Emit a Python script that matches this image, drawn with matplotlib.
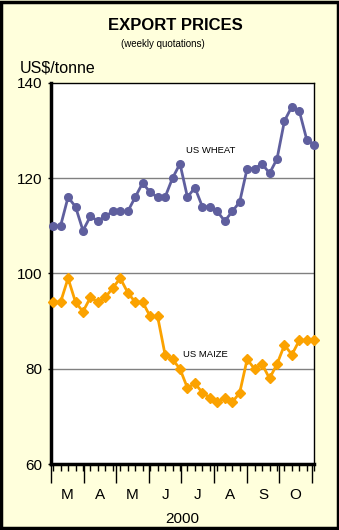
import datetime as dt
import matplotlib.pyplot as plt

# weekly quotations, 2000 (US$/tonne)
weeks = [dt.date(2000, 3, 3) + dt.timedelta(days=7 * i) for i in range(36)]
wheat = [110, 110, 116, 114, 109, 112, 111, 112, 113, 113, 113, 116,
         119, 117, 116, 116, 120, 123, 116, 118, 114, 114, 113, 111,
         113, 115, 122, 122, 123, 121, 124, 132, 135, 134, 128, 127]
maize = [94, 94, 99, 94, 92, 95, 94, 95, 97, 99, 96, 94,
         94, 91, 91, 83, 82, 80, 76, 77, 75, 74, 73, 74,
         73, 75, 82, 80, 81, 78, 81, 85, 83, 86, 86, 86]
month_labels = ['M', 'A', 'M', 'J', 'J', 'A', 'S', 'O']
month_starts = [dt.date(2000, m, 1) for m in range(3, 12)]
month_mids = [dt.date(2000, m, 16) for m in range(3, 11)]

bg = '#FFFFDC'
fig = plt.figure(figsize=(3.39, 5.30), dpi=100, facecolor=bg)
ax = fig.add_axes([51 / 339, 1 - 464.3 / 530, 263.3 / 339, 381.6 / 530])
ax.set_facecolor('white')

ax.plot(weeks, wheat, color='#5F5F9E', lw=2, marker='o', ms=5.5, clip_on=False, zorder=3)
ax.plot(weeks, maize, color='#FBA200', lw=2, marker='D', ms=5, clip_on=False, zorder=3)

ax.set_ylim(60, 140)
ax.set_yticks([60, 80, 100, 120, 140])
for v in [80, 100, 120]:
    ax.axhline(v, color='#808080', lw=1, zorder=0)
ax.set_xlim(dt.date(2000, 3, 1), dt.date(2000, 11, 3))

# x axis: long ticks at month starts, short weekly ticks
ax.set_xticks(month_starts)
ax.set_xticklabels([])
ax.set_xticks(weeks, minor=True)
ax.tick_params(axis='x', which='major', direction='out', length=13.5, width=1)
ax.tick_params(axis='x', which='minor', direction='out', length=5, width=1)
ax.tick_params(axis='y', direction='out', length=2.5, width=1, labelsize=11, pad=4)
for lab in ax.get_yticklabels():
    lab.set_family('Liberation Sans')

sec = ax.secondary_xaxis('bottom')
sec.set_xticks(month_mids, month_labels, family='Liberation Sans', fontsize=11)
sec.tick_params(length=0, pad=17)
sec.spines['bottom'].set_visible(False)
sec.set_xlabel('2000', family='Liberation Sans', fontsize=11, labelpad=7)

ax.spines['left'].set_linewidth(2.5)
ax.spines['bottom'].set_linewidth(2.5)
ax.spines['top'].set_linewidth(1)
ax.spines['right'].set_linewidth(1)

ax.text(dt.date(2000, 7, 29), 125.8, 'US WHEAT', fontsize=6.8, family='Liberation Sans',
        ha='center', va='center')
ax.text(dt.date(2000, 7, 24), 83, 'US MAIZE', fontsize=6.8, family='Liberation Sans',
        ha='center', va='center')

fig.text(175 / 339, 1 - 25 / 530, 'EXPORT PRICES', fontsize=12, fontweight='bold',
         family='Liberation Sans', ha='center', va='center')
fig.text(163 / 339, 1 - 44 / 530, '(weekly quotations)', fontsize=7,
         family='Liberation Sans', ha='center', va='center')
fig.text(20 / 339, 1 - 68 / 530, 'US$/tonne', fontsize=11.5,
         family='Liberation Sans', ha='left', va='center')

# outer border
fig.patches.append(plt.Rectangle((0.004, 0.003), 0.992, 0.994, transform=fig.transFigure,
                                 fill=False, edgecolor='black', lw=2.5))

fig.savefig('out.png', dpi=100, facecolor=bg)
